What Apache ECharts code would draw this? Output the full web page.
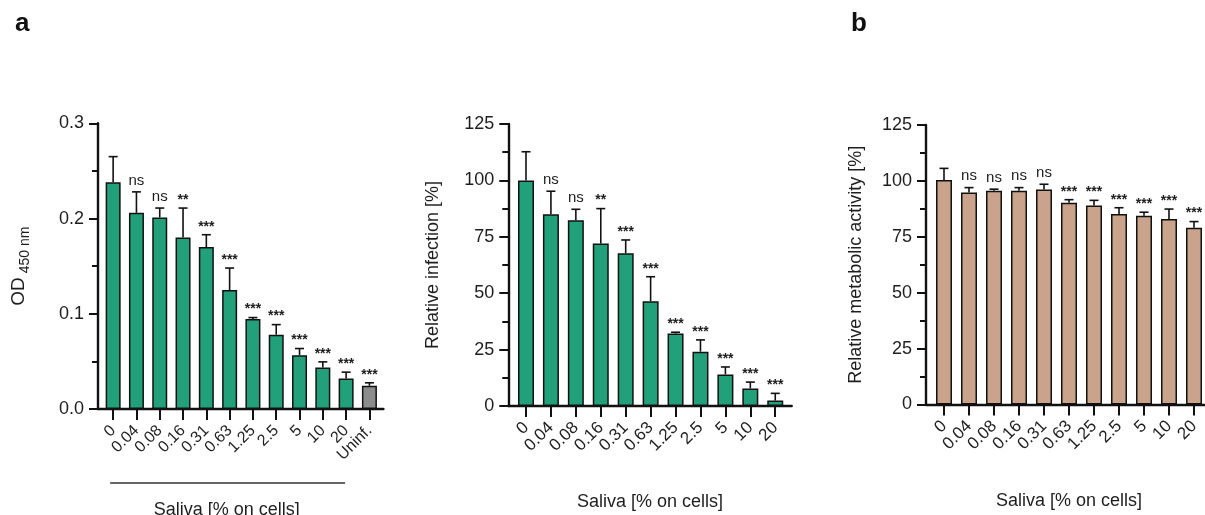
<!DOCTYPE html>
<html>
<head>
<meta charset="utf-8">
<script src="https://cdn.jsdelivr.net/npm/echarts@6/dist/echarts.min.js"></script>
<style>
  html, body { margin: 0; padding: 0; background: #fff; }
  #chart { width: 1205px; height: 515px; }
</style>
</head>
<body>
<div id="chart"></div>
<script>
// Saliva concentration categories (% on cells)
const catsA = ['0', '0.04', '0.08', '0.16', '0.31', '0.63', '1.25', '2.5', '5', '10', '20', 'Uninf.'];
const catsB = ['0', '0.04', '0.08', '0.16', '0.31', '0.63', '1.25', '2.5', '5', '10', '20'];

// Panel a, left: OD 450 nm — mean and upper end of the error bar
const odMean = [0.238, 0.206, 0.201, 0.180, 0.170, 0.125, 0.0945, 0.078, 0.0565, 0.0437, 0.032, 0.0244];
const odUpper = [0.265, 0.228, 0.211, 0.211, 0.183, 0.148, 0.096, 0.0886, 0.0635, 0.0495, 0.0387, 0.0275];
const odSig = ['', 'ns', 'ns', '**', '***', '***', '***', '***', '***', '***', '***', '***'];

// Panel a, right: relative infection [%]
const infMean = [100, 85.0, 82.3, 72.0, 67.7, 46.4, 32.1, 24.1, 14.0, 7.8, 2.4];
const infUpper = [112.7, 95.2, 87.2, 87.5, 73.6, 57.3, 32.7, 29.3, 17.3, 10.6, 5.6];
const infSig = ['', 'ns', 'ns', '**', '***', '***', '***', '***', '***', '***', '***'];

// Panel b: relative metabolic activity [%]
const metMean = [100.4, 94.8, 95.6, 95.6, 96.1, 90.2, 89.0, 85.2, 84.4, 83.0, 79.1];
const metUpper = [105.6, 97.0, 96.3, 97.0, 98.5, 91.6, 91.3, 88.0, 86.0, 87.4, 81.8];
const metSig = ['', 'ns', 'ns', 'ns', 'ns', '***', '***', '***', '***', '***', '***'];

// Y axis ticks
const odTicks = [0, 0.1, 0.2, 0.3];
const pctTicks = [0, 25, 50, 75, 100, 125];

const FONT = '"Liberation Sans", Arial, Helvetica, sans-serif';
const INK = '#111';
const TEXT = '#1e1e1e';
const GREEN = '#22a07a';
const TAN = '#c9a38b';
const GREY = '#8c8c8c';

function yAxisCfg(gi, ticks, name, gap, fmt, nameStyle) {
  return {
    gridIndex: gi, type: 'value',
    min: ticks[0], max: ticks[ticks.length - 1], interval: ticks[1] - ticks[0],
    axisLine: { show: true, onZero: false, lineStyle: { color: INK, width: 2.4 } },
    axisTick: { show: true, length: 9, lineStyle: { color: INK, width: 2 } },
    minorTick: { show: true, splitNumber: 2, length: 6, lineStyle: { color: INK, width: 2 } },
    splitLine: { show: false },
    axisLabel: { fontSize: 18, color: TEXT, margin: 14, fontFamily: FONT, formatter: fmt },
    name: name, nameLocation: 'middle', nameGap: gap,
    nameTextStyle: Object.assign({ fontSize: 18, color: TEXT, fontFamily: FONT }, nameStyle || {})
  };
}

function xAxisCfg(gi, cats, min, max, gap, namePad, labelSize) {
  const idx = cats.map((_, i) => i);
  return {
    gridIndex: gi, type: 'value', min: min, max: max,
    axisLine: { show: true, onZero: false, lineStyle: { color: INK, width: 2.4 } },
    axisTick: { show: true, length: 11, customValues: idx, lineStyle: { color: INK, width: 2 } },
    axisLabel: {
      customValues: idx, rotate: 45, fontSize: labelSize, margin: 19,
      color: TEXT, fontFamily: FONT,
      showMinLabel: true, showMaxLabel: true, hideOverlap: false,
      formatter: v => cats[Math.round(v)]
    },
    splitLine: { show: false },
    name: 'Saliva [% on cells]', nameLocation: 'middle', nameGap: gap,
    nameTextStyle: { fontSize: 18, color: TEXT, fontFamily: FONT, padding: namePad || 0 }
  };
}

function barSeries(gi, cats, means, color, width) {
  return {
    type: 'bar', xAxisIndex: gi, yAxisIndex: gi, barWidth: width, z: 2,
    itemStyle: { color: color, borderColor: INK, borderWidth: 1.5 },
    data: means.map((v, i) => ({
      value: [i, v],
      itemStyle: cats[i] === 'Uninf.' ? { color: GREY } : undefined
    })),
    animation: false
  };
}

// Upper error bar with cap, plus the significance mark above it
function errSeries(gi, means, uppers, sig) {
  return {
    type: 'custom', xAxisIndex: gi, yAxisIndex: gi, z: 3, animation: false,
    encode: { x: 0, y: [1, 2] },
    data: means.map((v, i) => [i, v, uppers[i]]),
    renderItem: function (params, api) {
      const i = api.value(0);
      const top = api.coord([i, api.value(1)]);
      const end = api.coord([i, api.value(2)]);
      const cap = 4.5;
      const stroke = { stroke: INK, lineWidth: 1.6 };
      const children = [
        { type: 'line', shape: { x1: top[0], y1: top[1], x2: end[0], y2: end[1] }, style: stroke },
        { type: 'line', shape: { x1: end[0] - cap, y1: end[1], x2: end[0] + cap, y2: end[1] }, style: stroke }
      ];
      const label = sig[params.dataIndex];
      if (label) {
        const stars = label.indexOf('*') >= 0;
        children.push({
          type: 'text', x: end[0], y: end[1] - (stars ? 1 : 4),
          style: {
            text: label, fill: TEXT, align: 'center', verticalAlign: 'bottom',
            font: (stars ? 'bold 14px ' : '15px ') + FONT
          }
        });
      }
      return { type: 'group', children: children };
    }
  };
}

// Bracket under the saliva dilutions of the OD panel (0 … 20, not Uninf.)
const bracketSeries = {
  type: 'custom', xAxisIndex: 0, yAxisIndex: 0, z: 3, animation: false,
  encode: { x: [0, 1], y: 2 },
  data: [[0, catsA.indexOf('20'), 0]],
  renderItem: function (params, api) {
    const p0 = api.coord([api.value(0), api.value(2)]);
    const p1 = api.coord([api.value(1), api.value(2)]);
    const y = p0[1] + 74;
    return {
      type: 'line',
      shape: { x1: p0[0] - 3, y1: y, x2: p1[0] - 1, y2: y },
      style: { stroke: '#333', lineWidth: 1.3 }
    };
  }
};

const gridBase = { outerBoundsMode: 'none', containLabel: false };

const chart = echarts.init(document.getElementById('chart'), null, { renderer: 'canvas' });
chart.setOption({
  animation: false,
  backgroundColor: '#fff',
  textStyle: { fontFamily: FONT },
  title: [
    { text: 'a', left: 10, top: 6, textStyle: { fontSize: 26, fontWeight: 'bold', color: INK, fontFamily: FONT } },
    { text: 'b', left: 846, top: 6, textStyle: { fontSize: 26, fontWeight: 'bold', color: INK, fontFamily: FONT } }
  ],
  grid: [
    Object.assign({ left: 98, top: 123.3, width: 285.4, height: 285.7 }, gridBase),
    Object.assign({ left: 508.3, top: 124, width: 283.4, height: 282 }, gridBase),
    Object.assign({ left: 926, top: 125, width: 286, height: 279.5 }, gridBase)
  ],
  xAxis: [
    xAxisCfg(0, catsA, -0.65, 11.6, 92, [0, 28, 0, 0], 16),
    xAxisCfg(1, catsB, -0.71, 10.66, 87, 0, 17),
    xAxisCfg(2, catsB, -0.72, 10.72, 88, 0, 17)
  ],
  yAxis: [
    yAxisCfg(0, odTicks, '{a|OD}{b| 450 nm}', 66, v => v.toFixed(1), {
      rich: {
        a: { fontSize: 19, color: TEXT, fontFamily: FONT, verticalAlign: 'bottom', padding: [0, 0, 4, 0] },
        b: { fontSize: 14, color: TEXT, fontFamily: FONT, verticalAlign: 'bottom' }
      }
    }),
    yAxisCfg(1, pctTicks, 'Relative infection [%]', 66, v => String(v)),
    yAxisCfg(2, pctTicks, 'Relative metabolic activity [%]', 61, v => String(v))
  ],
  series: [
    barSeries(0, catsA, odMean, GREEN, 15),
    errSeries(0, odMean, odUpper, odSig),
    bracketSeries,
    barSeries(1, catsB, infMean, GREEN, 16),
    errSeries(1, infMean, infUpper, infSig),
    barSeries(2, catsB, metMean, TAN, 16),
    errSeries(2, metMean, metUpper, metSig)
  ]
});
</script>
</body>
</html>
